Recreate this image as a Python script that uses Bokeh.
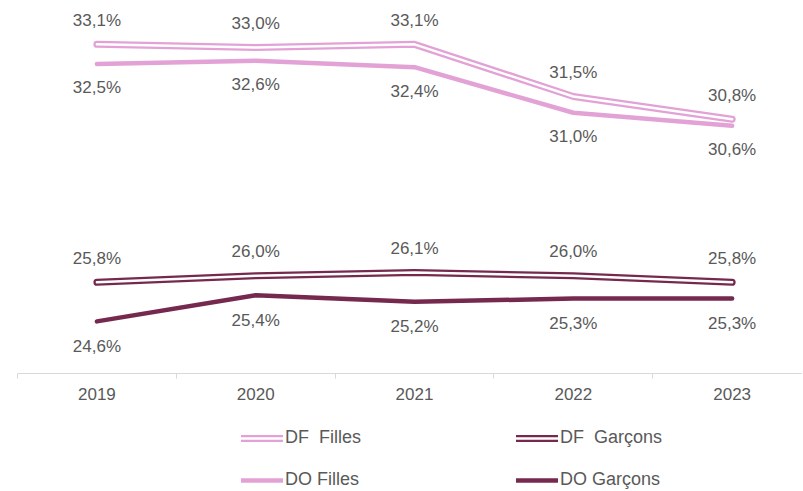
from bokeh.plotting import figure
from bokeh.layouts import column
from bokeh.models import ColumnDataSource, LabelSet, Legend, LegendItem, FixedTicker, Range1d
from bokeh.core.properties import value
from bokeh.embed import file_html
from bokeh.resources import INLINE

years = ["2019", "2020", "2021", "2022", "2023"]
df_filles = [33.1, 33.0, 33.1, 31.5, 30.8]
do_filles = [32.5, 32.6, 32.4, 31.0, 30.6]
df_garcons = [25.8, 26.0, 26.1, 26.0, 25.8]
do_garcons = [24.6, 25.4, 25.2, 25.3, 25.3]
series_names = ["DF  Filles", "DF  Garçons", "DO Filles", "DO Garçons"]

PINK = "#E3A2D6"
PURPLE = "#76294F"
TEXT = "#595959"
FONT = "Liberation Sans"

x = list(range(len(years)))

p = figure(width=802, height=410, output_backend="svg", toolbar_location=None,
           x_range=Range1d(-0.5, 4.443), y_range=Range1d(23, 34.2),
           y_axis_location=None,
           min_border_left=17, min_border_right=0, min_border_top=8, min_border_bottom=37)
p.outline_line_color = None
p.grid.visible = False

ax = p.xaxis[0]
ax.ticker = FixedTicker(ticks=x, minor_ticks=[i - 0.5 for i in range(len(years) + 1)])
ax.major_label_overrides = {i: y for i, y in enumerate(years)}
ax.axis_line_color = "#D9D9D9"
ax.major_tick_line_color = None
ax.minor_tick_line_color = "#D9D9D9"
ax.minor_tick_out = 5
ax.minor_tick_in = 0
ax.major_label_standoff = 8
ax.major_label_text_font = FONT
ax.major_label_text_font_size = "17px"
ax.major_label_text_color = TEXT

# legend strip (separate figure, same styles; its lines lie outside its visible range)
q = figure(width=802, height=81, output_backend="svg", toolbar_location=None,
           x_range=Range1d(0, 1), y_range=Range1d(0, 1),
           x_axis_location=None, y_axis_location=None,
           min_border_left=0, min_border_right=0, min_border_top=0, min_border_bottom=0)
q.outline_line_color = None
q.grid.visible = False


def fmt(v):
    return f"{v:.1f}%".replace(".", ",")


def draw(fig, src, color, double):
    if double:
        r1 = fig.line("x", "y", source=src, line_color=color, line_width=7,
                      line_cap="round", line_join="round")
        r2 = fig.line("x", "y", source=src, line_color="white", line_width=2.5,
                      line_cap="round", line_join="round")
        return [r1, r2]
    return [fig.line("x", "y", source=src, line_color=color, line_width=4.5,
                     line_cap="round", line_join="round")]


def series(vals, color, double, offset):
    src = ColumnDataSource(dict(x=x, y=vals, t=[fmt(v) for v in vals]))
    draw(p, src, color, double)
    p.add_layout(LabelSet(x="x", y="y", text="t", source=src, y_offset=offset,
                          text_align="center", text_baseline="middle",
                          text_font=value(FONT), text_font_size=value("17px"),
                          text_color=value(TEXT)))
    # same series placed off-screen in the legend strip so the legend glyph renders
    off = ColumnDataSource(dict(x=[v - 100 for v in x], y=[v - 100 for v in vals]))
    return draw(q, off, color, double)


r_dff = series(df_filles, PINK, True, 24)
r_dof = series(do_filles, PINK, False, -24)
r_dfg = series(df_garcons, PURPLE, True, 24)
r_dog = series(do_garcons, PURPLE, False, -25)

legend = Legend(items=[
    LegendItem(label=series_names[0], renderers=r_dff),
    LegendItem(label=series_names[1], renderers=r_dfg),
    LegendItem(label=series_names[2], renderers=r_dof),
    LegendItem(label=series_names[3], renderers=r_dog),
], orientation="horizontal", ncols=2, location=(224, 1),
    glyph_width=42, glyph_height=20, label_height=20, label_width=210,
    label_standoff=2, spacing=21, padding=0, margin=0,
    border_line_color=None, background_fill_alpha=0,
    label_text_font=FONT, label_text_font_size="18px", label_text_color=TEXT)
q.add_layout(legend, "center")

layout = column(p, q, spacing=0)
open("out.html", "w").write(file_html(layout, INLINE))
